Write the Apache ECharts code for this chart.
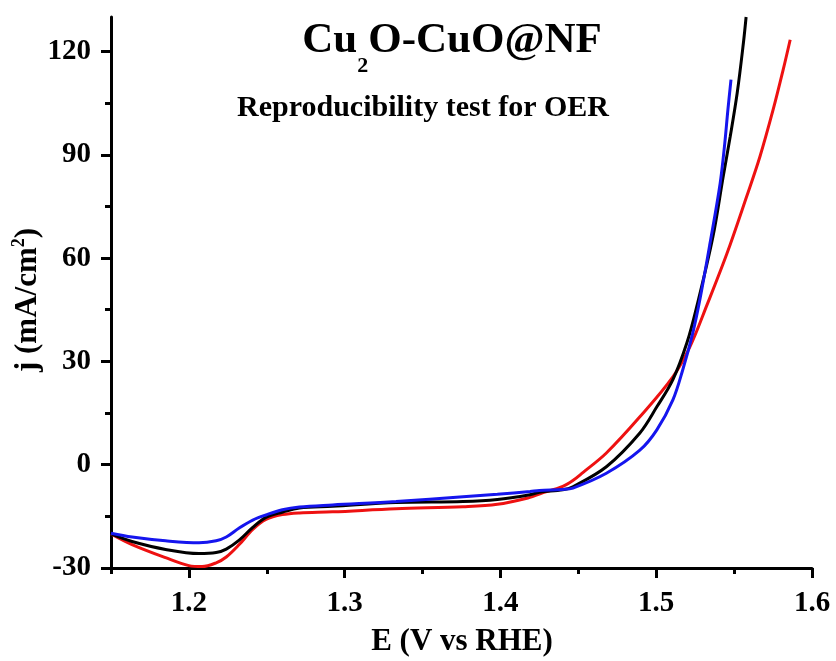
<!DOCTYPE html>
<html>
<head>
<meta charset="utf-8">
<title>Cu2O-CuO@NF OER reproducibility</title>
<script src="https://cdn.jsdelivr.net/npm/echarts@6/dist/echarts.min.js"></script>
<style>
  html, body { margin: 0; padding: 0; background: #fff; }
  #chart { width: 836px; height: 661px; }
</style>
</head>
<body>
<div id="chart"></div>
<script>
// Polarization curves (E vs RHE, current density j in mA/cm^2) for three repeated runs
const E_run1 = [1.15, 1.1635, 1.185, 1.2065, 1.2175, 1.224, 1.2323, 1.241, 1.2495, 1.26, 1.271, 1.2922, 1.333, 1.376, 1.398, 1.419, 1.425, 1.44, 1.4465, 1.468, 1.4895, 1.5004, 1.5107, 1.5197, 1.526, 1.5364, 1.543, 1.5475, 1.552, 1.556, 1.5577];
const J_run1 = [-20.1, -22.3, -24.6, -25.8, -25.5, -24.5, -21.9, -18.2, -15.3, -13.8, -12.6, -12.1, -11.0, -10.7, -10.1, -8.7, -8.0, -7.3, -6.4, -0.6, 9.2, 16.8, 24.7, 35.4, 45.9, 66.2, 83.7, 95.3, 108.0, 122.6, 130.0];

const E_run2 = [1.15, 1.1635, 1.185, 1.2, 1.2085, 1.2175, 1.224, 1.2323, 1.241, 1.2495, 1.26, 1.271, 1.2922, 1.333, 1.376, 1.398, 1.419, 1.425, 1.44, 1.4465, 1.4529, 1.468, 1.4895, 1.5107, 1.5216, 1.5326, 1.5454, 1.558, 1.5666, 1.575, 1.5815, 1.586];
const J_run2 = [-20.1, -23.2, -27.0, -29.3, -29.6, -28.5, -26.8, -23.2, -18.8, -15.9, -14.5, -14.0, -13.7, -12.8, -12.2, -11.5, -9.5, -8.5, -6.3, -4.6, -2.3, 3.4, 13.9, 25.5, 34.2, 46.4, 61.3, 77.8, 89.5, 103.0, 114.7, 123.4];

const E_run3 = [1.15, 1.1635, 1.185, 1.2065, 1.2175, 1.224, 1.2323, 1.241, 1.2495, 1.26, 1.271, 1.2922, 1.333, 1.376, 1.398, 1.419, 1.425, 1.44, 1.4465, 1.468, 1.4895, 1.5004, 1.5107, 1.517, 1.5235, 1.528, 1.5345, 1.541, 1.544, 1.546, 1.548];
const J_run3 = [-19.9, -21.0, -22.1, -22.7, -22.1, -21.0, -18.4, -16.1, -14.6, -13.1, -12.3, -11.7, -10.7, -9.3, -8.6, -7.8, -7.5, -7.2, -6.8, -2.5, 4.2, 10.1, 18.8, 27.5, 38.3, 47.9, 64.2, 81.6, 93.3, 103.0, 111.8];

// Axis ticks
const X_MAJOR = [1.2, 1.3, 1.4, 1.5, 1.6];
const X_MINOR = [1.15, 1.25, 1.35, 1.45, 1.55];
const Y_MAJOR = [-30, 0, 30, 60, 90, 120];
const Y_MINOR = [-15, 15, 45, 75, 105];

const FONT = "'Liberation Serif', 'Times New Roman', serif";
const pairs = (xs, ys) => xs.map((x, i) => [x, ys[i]]);

const chart = echarts.init(document.getElementById('chart'));

const lineSeries = (data, color) => ({
  type: 'line',
  data: data,
  smooth: 0.35,
  showSymbol: false,
  symbol: 'none',
  lineStyle: { color: color, width: 3 },
  xAxisIndex: 0,
  yAxisIndex: 0
});

const tickLabel = {
  color: '#000',
  fontFamily: FONT,
  fontWeight: 'bold',
  fontSize: 29
};

chart.setOption({
  animation: false,
  backgroundColor: '#fff',
  grid: { left: 111, right: 24, top: 17, bottom: 93 },
  xAxis: [
    {
      type: 'value', min: 1.15, max: 1.6, position: 'bottom',
      axisLine: { onZero: false, lineStyle: { color: '#000', width: 3 } },
      axisTick: { customValues: X_MAJOR, length: 10, lineStyle: { color: '#000', width: 3 } },
      axisLabel: Object.assign({ customValues: X_MAJOR, margin: 21, formatter: v => v.toFixed(1) }, tickLabel),
      splitLine: { show: false }
    },
    {
      type: 'value', min: 1.15, max: 1.6, position: 'bottom',
      axisLine: { show: false, onZero: false },
      axisTick: { customValues: X_MINOR, length: 6, lineStyle: { color: '#000', width: 3 } },
      axisLabel: { show: false },
      splitLine: { show: false }
    }
  ],
  yAxis: [
    {
      type: 'value', min: -30, max: 130, position: 'left',
      axisLine: { show: true, onZero: false, lineStyle: { color: '#000', width: 3 } },
      axisTick: { show: true, customValues: Y_MAJOR, length: 10, lineStyle: { color: '#000', width: 3 } },
      axisLabel: Object.assign({ customValues: Y_MAJOR, margin: 20 }, tickLabel),
      splitLine: { show: false }
    },
    {
      type: 'value', min: -30, max: 130, position: 'left', offset: 0,
      axisLine: { show: false, onZero: false },
      axisTick: { show: true, customValues: Y_MINOR, length: 6, lineStyle: { color: '#000', width: 3 } },
      axisLabel: { show: false },
      splitLine: { show: false }
    }
  ],
  series: [
    lineSeries(pairs(E_run2, J_run2), '#ee1111'),
    lineSeries(pairs(E_run1, J_run1), '#000000'),
    lineSeries(pairs(E_run3, J_run3), '#1515ee')
  ],
  graphic: [
    {
      type: 'text', x: 452, y: 41,
      style: {
        text: '{a|Cu}{s|2}{a|O-CuO@NF}',
        textAlign: 'center', textVerticalAlign: 'middle',
        rich: {
          a: { fontFamily: FONT, fontWeight: 'bold', fontSize: 43, fill: '#000' },
          s: { fontFamily: FONT, fontWeight: 'bold', fontSize: 22, fill: '#000', padding: [50, 0, 0, 0] }
        }
      }
    },
    {
      type: 'text', x: 423, y: 108,
      style: {
        text: 'Reproducibility test for OER',
        textAlign: 'center', textVerticalAlign: 'middle',
        fontFamily: FONT, fontWeight: 'bold', fontSize: 30, fill: '#000'
      }
    },
    {
      type: 'text', x: 462, y: 642,
      style: {
        text: 'E (V vs RHE)',
        textAlign: 'center', textVerticalAlign: 'middle',
        fontFamily: FONT, fontWeight: 'bold', fontSize: 31, fill: '#000'
      }
    },
    {
      type: 'text', x: 28, y: 300, rotation: Math.PI / 2,
      style: {
        text: '{a|j (mA/cm}{p|2}{a|)}',
        textAlign: 'center', textVerticalAlign: 'middle',
        rich: {
          a: { fontFamily: FONT, fontWeight: 'bold', fontSize: 31, fill: '#000' },
          p: { fontFamily: FONT, fontWeight: 'bold', fontSize: 18, fill: '#000', padding: [0, 0, 18, 0] }
        }
      }
    }
  ]
});
</script>
</body>
</html>
